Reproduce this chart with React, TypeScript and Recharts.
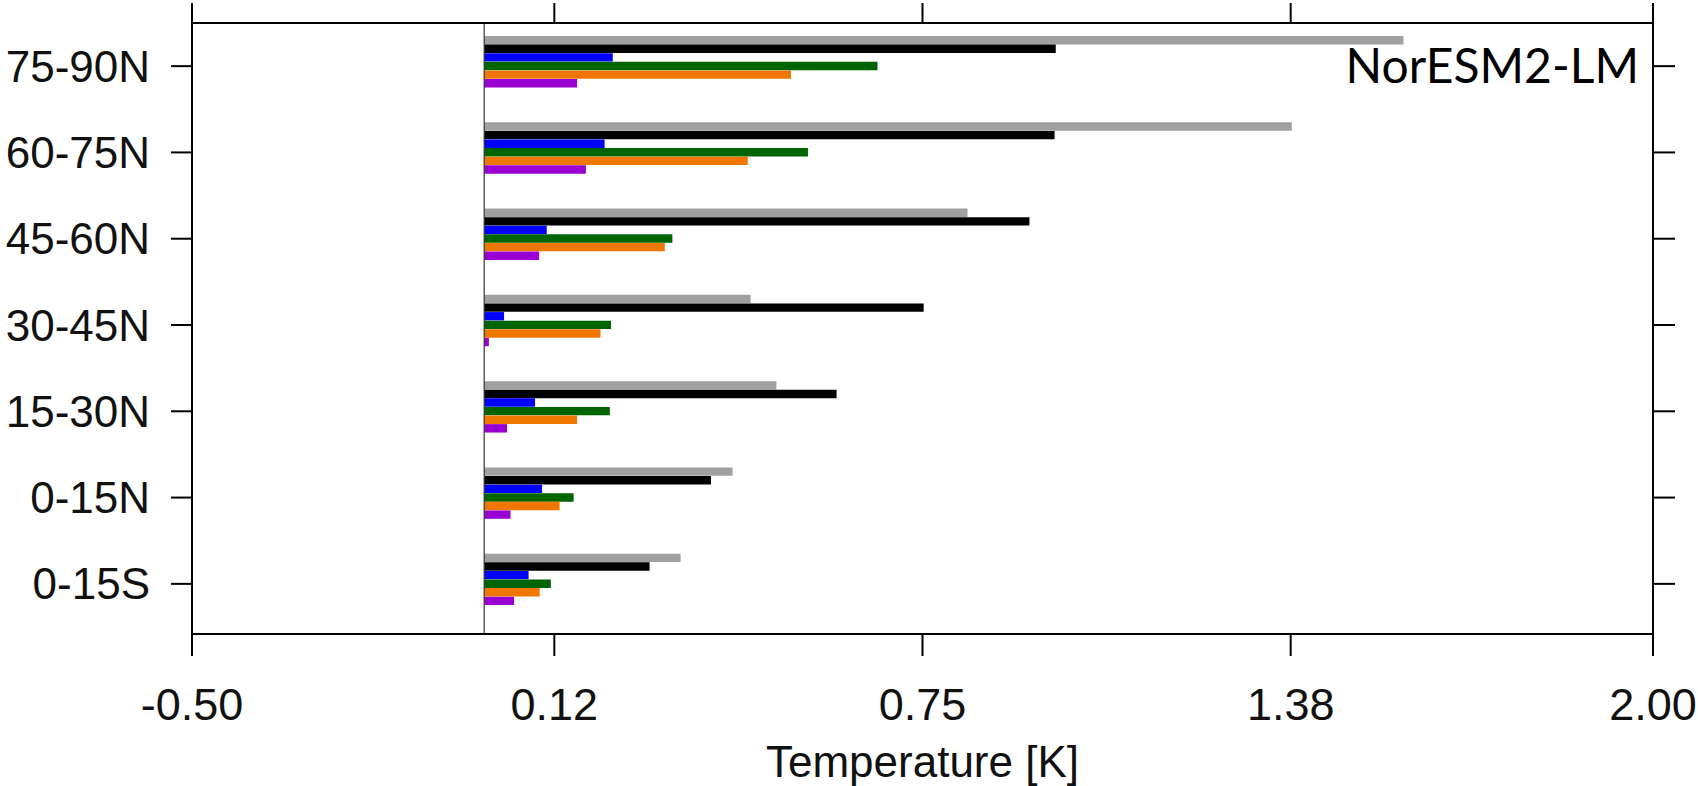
import { Bar, BarChart, ReferenceLine, XAxis, YAxis } from "recharts";

const regions = ["75-90N", "60-75N", "45-60N", "30-45N", "15-30N", "0-15N", "0-15S"];

const grey = [1.573, 1.382, 0.827, 0.456, 0.5, 0.425, 0.336];
const black = [0.978, 0.976, 0.933, 0.752, 0.603, 0.388, 0.283];
const blue = [0.22, 0.206, 0.107, 0.034, 0.087, 0.099, 0.076];
const green = [0.673, 0.554, 0.322, 0.217, 0.215, 0.153, 0.114];
const orange = [0.525, 0.451, 0.309, 0.199, 0.159, 0.129, 0.095];
const purple = [0.159, 0.174, 0.094, 0.008, 0.039, 0.045, 0.051];

const xTicks = [-0.5, 0.12, 0.75, 1.38, 2.0];

const series = [
  { key: "grey", color: "#a0a0a0" },
  { key: "black", color: "#000000" },
  { key: "blue", color: "#0000ff" },
  { key: "green", color: "#006400" },
  { key: "orange", color: "#ef7700" },
  { key: "purple", color: "#9900d2" },
];

const data = regions.map((region, i) => ({
  region,
  grey: grey[i],
  black: black[i],
  blue: blue[i],
  green: green[i],
  orange: orange[i],
  purple: purple[i],
  // empty slot below purple, so the tick lines up with the 4th bar like the original
  slot: null,
}));

const W = 1698;
const H = 786;
const font = "'Liberation Sans', Arial, Helvetica, sans-serif";
// mirror axes: tick marks only, no labels
const noLabel = () => <g />;

export default function App() {
  return (
    <div style={{ position: "absolute", left: 0, top: 0, width: W, height: H, background: "#fff" }}>
      <BarChart
        width={W}
        height={H}
        data={data}
        layout="vertical"
        margin={{ top: 22, right: 44, bottom: 0, left: 0 }}
        barSize={8.4}
        barGap={0.2}
      >
        <XAxis
          type="number"
          domain={[-0.5, 2]}
          ticks={xTicks}
          allowDataOverflow
          height={152}
          tickFormatter={(v: number) => v.toFixed(2)}
          tick={{ fontSize: 45, fill: "#111", fontFamily: font }}
          tickSize={22}
          tickMargin={32}
          axisLine={{ stroke: "#000", strokeWidth: 2 }}
          tickLine={{ stroke: "#000", strokeWidth: 2 }}
          label={{
            value: "Temperature [K]",
            position: "insideBottom",
            offset: 9,
            style: { fontSize: 44, fill: "#111", fontFamily: font },
          }}
        />
        <XAxis
          xAxisId="top"
          orientation="top"
          type="number"
          domain={[-0.5, 2]}
          ticks={xTicks}
          allowDataOverflow
          height={1}
          tick={noLabel}
          tickSize={20}
          axisLine={{ stroke: "#000", strokeWidth: 2 }}
          tickLine={{ stroke: "#000", strokeWidth: 2 }}
        />
        <YAxis
          type="category"
          dataKey="region"
          width={192}
          padding={{ top: 0, bottom: 7 }}
          tick={{ fontSize: 44, fill: "#111", fontFamily: font }}
          tickSize={21}
          tickMargin={21}
          axisLine={{ stroke: "#000", strokeWidth: 2 }}
          tickLine={{ stroke: "#000", strokeWidth: 2 }}
        />
        <YAxis
          yAxisId="right"
          orientation="right"
          type="category"
          dataKey="region"
          width={1}
          padding={{ top: 0, bottom: 7 }}
          tick={noLabel}
          tickSize={22}
          axisLine={{ stroke: "#000", strokeWidth: 2 }}
          tickLine={{ stroke: "#000", strokeWidth: 2 }}
        />
        {series.map((s) => (
          <Bar key={s.key} dataKey={s.key} fill={s.color} isAnimationActive={false} />
        ))}
        <Bar dataKey="slot" fill="none" isAnimationActive={false} />
        <ReferenceLine x={0} stroke="#333" strokeWidth={1.2} />
      </BarChart>
      <svg
        width={W}
        height={H}
        style={{ position: "absolute", left: 0, top: 0, pointerEvents: "none" }}
      >
        <text
          x={1639}
          y={83}
          textAnchor="end"
          fontSize={48}
          fontFamily="Lato, 'Open Sans', sans-serif"
          fill="#000"
        >
          NorESM2-LM
        </text>
      </svg>
    </div>
  );
}
